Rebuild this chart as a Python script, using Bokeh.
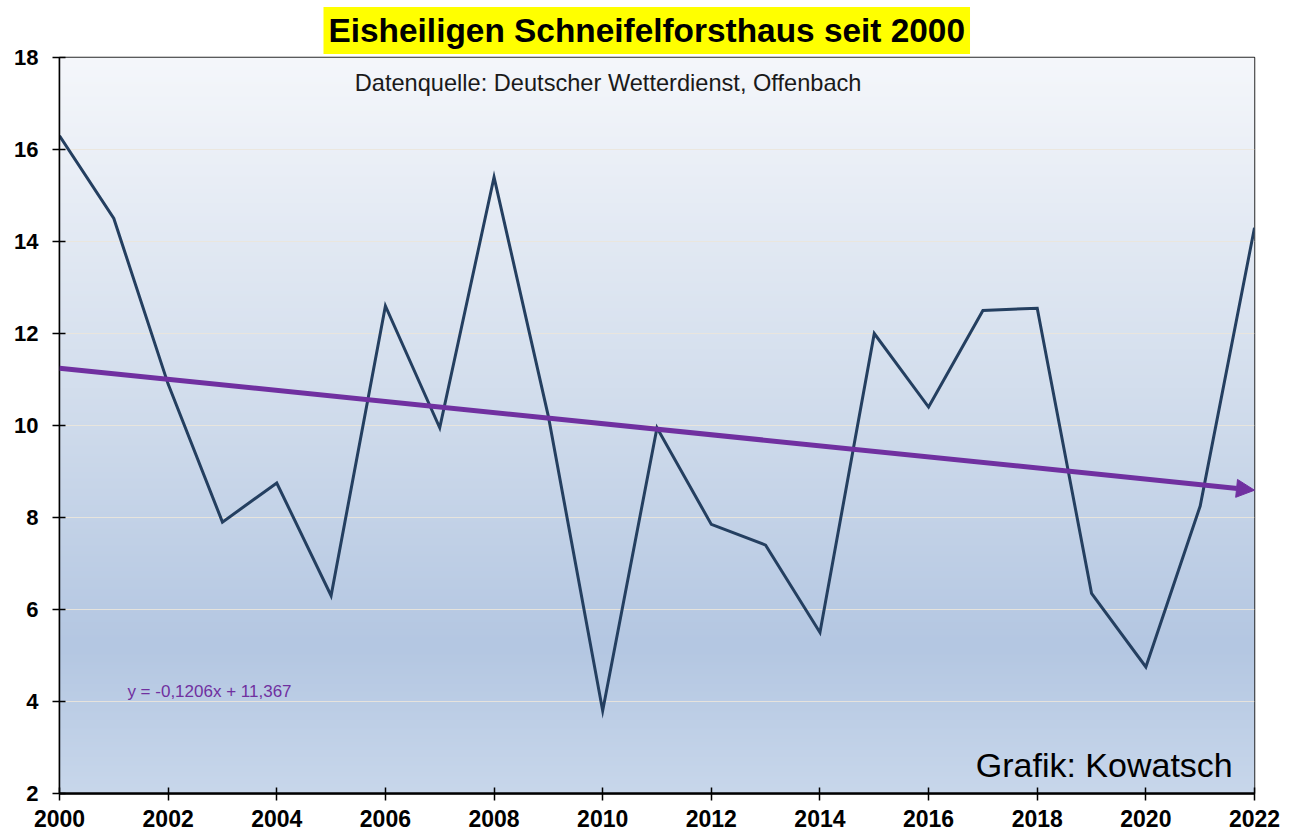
import numpy as np
from bokeh.plotting import figure
from bokeh.models import Range1d, FixedTicker, Label, Arrow, NormalHead
from bokeh.embed import file_html
from bokeh.resources import INLINE

# ---- data ----
years = list(range(2000, 2023))
temps = [16.3, 14.5, 10.9, 7.9, 8.75, 6.3, 12.6, 9.95, 15.4, 10.2, 3.8, 9.95,
         7.85, 7.4, 5.5, 12.0, 10.4, 12.5, 12.55, 6.35, 4.75, 8.25, 14.3]
x_ticks = list(range(2000, 2023, 2))
y_ticks = list(range(2, 19, 2))
trend_slope = -0.1206
trend_intercept = 11.367
title_text = "Eisheiligen Schneifelforsthaus seit 2000"
source_text = "Datenquelle: Deutscher Wetterdienst, Offenbach"
credit_text = "Grafik: Kowatsch"

FONT = "Liberation Sans"

p = figure(width=1292, height=831, output_backend="svg", toolbar_location=None,
           x_range=Range1d(2000, 2022), y_range=Range1d(2, 18),
           min_border_left=59, min_border_right=38, min_border_top=57,
           min_border_bottom=38)
p.background_fill_color = "#ffffff"
p.border_fill_color = "#ffffff"

# ---- title ----
p.title.text = title_text
p.title.text_font = FONT
p.title.text_font_style = "bold"
p.title.text_font_size = "33.4px"
p.title.text_color = "#000000"
p.title.align = "left"
p.title.offset = 264
p.title.standoff = 7
p.title.background_fill_color = "#ffff00"
p.title.padding = 5

# ---- background gradient ----
n = 600
t = np.linspace(0.0, 1.0, n)  # 0 = top, 1 = bottom
pos = [0.0, 0.45, 0.8, 1.0]
rr = np.interp(t, pos, [245, 211, 180, 200])
gg = np.interp(t, pos, [247, 222, 199, 215])
bb = np.interp(t, pos, [251, 237, 226, 235])
img = np.empty((n, 1), dtype=np.uint32)
view = img.view(dtype=np.uint8).reshape((n, 1, 4))
view[:, 0, 0] = rr
view[:, 0, 1] = gg
view[:, 0, 2] = bb
view[:, 0, 3] = 255
img = np.ascontiguousarray(img[::-1])
bg = p.image_rgba(image=[img], x=x_ticks[0], y=y_ticks[0],
                  dw=x_ticks[-1] - x_ticks[0], dh=y_ticks[-1] - y_ticks[0])
bg.level = "image"

# ---- axes ----
p.xaxis.ticker = FixedTicker(ticks=x_ticks)
p.yaxis.ticker = FixedTicker(ticks=y_ticks)
for ax in (p.xaxis[0], p.yaxis[0]):
    ax.major_label_text_font = FONT
    ax.major_label_text_font_style = "bold"
    ax.major_label_text_color = "#000000"
    ax.axis_line_color = "#000000"
    ax.major_tick_line_color = "#000000"
    ax.major_tick_line_width = 1.5
    ax.minor_tick_line_color = None
    ax.major_tick_in = 6
    ax.major_tick_out = 7
p.xaxis.major_label_text_font_size = "23px"
p.yaxis.major_label_text_font_size = "22px"
p.xaxis.axis_line_width = 2.5
p.yaxis.axis_line_width = 1.5
p.xaxis.major_label_standoff = 9
p.yaxis.major_label_standoff = 14

p.xgrid.visible = False
p.ygrid.ticker = FixedTicker(ticks=y_ticks)
p.ygrid.grid_line_color = "#ebe6dc"
p.ygrid.grid_line_width = 1
p.ygrid.grid_line_alpha = 0.9

p.outline_line_color = "#262626"
p.outline_line_width = 1.5

# ---- data line ----
p.line(years, temps, line_color="#243f60", line_width=3, line_join="miter")

# ---- trend arrow ----
trend_y = [trend_intercept + trend_slope * (i + 1) for i in range(len(years))]
p.add_layout(Arrow(x_start=years[0], y_start=trend_y[0],
                   x_end=years[-1], y_end=trend_y[-1],
                   line_color="#7030a0", line_width=5,
                   end=NormalHead(size=18, fill_color="#7030a0",
                                  line_color="#7030a0", line_width=1)))

eq_text = ("y = %.4fx + %.3f" % (trend_slope, trend_intercept)).replace(".", ",")
p.add_layout(Label(x=2001.25, y=4.21, text=eq_text, text_font=FONT,
                   text_font_size="17px", text_color="#7030a0",
                   text_baseline="middle", text_align="left"))

p.add_layout(Label(x=2010.1, y=17.45, text=source_text, text_font=FONT,
                   text_font_size="23.6px", text_color="#1a1a1a",
                   text_baseline="middle", text_align="center"))

p.add_layout(Label(x=2021.6, y=2.62, text=credit_text, text_font=FONT,
                   text_font_size="34px", text_color="#000000",
                   text_baseline="alphabetic", text_align="right"))

open("out.html", "w").write(file_html(p, INLINE))
